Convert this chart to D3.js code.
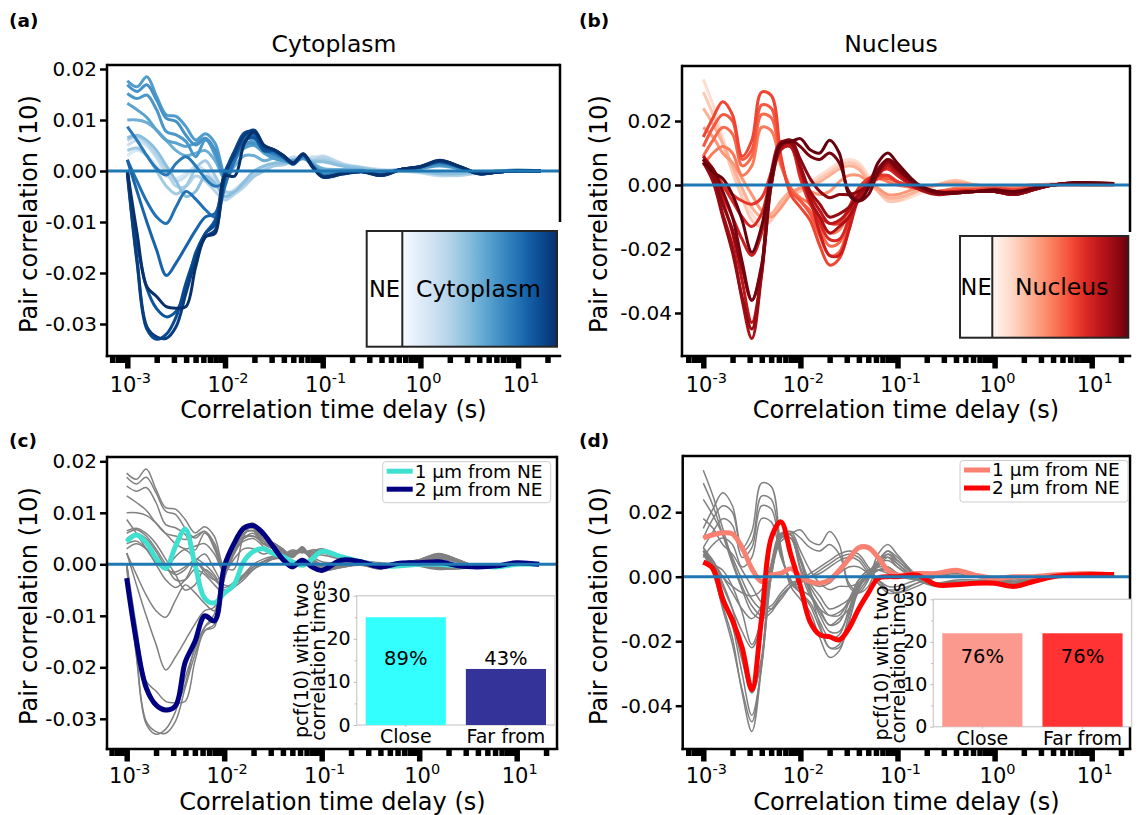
<!DOCTYPE html>
<html><head><meta charset="utf-8">
<script src="https://cdn.jsdelivr.net/npm/d3@7"></script>
<style>
body{margin:0;background:#fff}
text{font-family:"DejaVu Sans",sans-serif;fill:#000}
</style></head>
<body><svg id="chart" width="1141" height="815"></svg>
<script>
// ---------------- DATA ----------------
const delays=[0.001,0.001259,0.001585,0.001995,0.002512,0.003162,0.003981,0.005012,0.00631,0.007943,0.01,0.01259,0.01585,0.01995,0.02512,0.03162,0.03981,0.05012,0.0631,0.07943,0.1,0.1585,0.2512,0.3981,0.631,1,1.585,2.512,3.981,6.31,10,17];

// cytoplasm pcf(10) curves (x 1e-3), ordered from near NE (light) to far (dark)
const cytoShade=[0.15,0.22,0.3,0.36,0.42,0.5,0.55,0.58,0.6,0.62,0.72,0.75,0.8,0.86,0.9,0.95,1.0];
const cytoCurves=[
[3,4,3,1,-1,-1.5,-0.5,0.5,-1,-3,-4.5,-3.5,-2,-0.5,0.5,1,1.5,2.5,2.5,2.5,3,1.5,0.8,0.2,0,-0.3,-0.8,-0.8,-0.3,0,0,0],
[5,6,5,2.5,-0.5,-2,-1,1,0,-2,-5,-4,-2.5,-0.5,0.5,1.2,1.8,2.8,2.2,2.8,2.5,1.2,0.6,0.3,0,-0.4,-1,-0.7,-0.2,0,0.1,0],
[6,6.7,5.5,3,0,-3,-3,-1,-2,-4,-5.7,-4.5,-3,-1,0.5,1.5,2,2.5,2.8,2.2,2.8,1.4,0.5,0,0.2,-0.2,-0.8,-0.9,-0.4,0,0,0],
[4,4.5,3,0,-3,-4.5,-3,0.5,2,-1,-4,-4,-2.5,-1,0,1,1.2,2,2.4,2,2.2,1.2,0.7,0.1,0.1,-0.2,-0.6,-0.6,-0.3,0,0.1,0],
[6.5,7,6,4,1,-2,-5,-4,-1,-2.5,-5,-4,-2,0,1,1.5,1.6,2.2,2.5,1.8,1.8,1,0.5,0,0.3,0,-0.5,-0.5,-0.2,0,0,0],
[10,10,9.5,8,6,4,3,3.5,4,2,-1.5,1,3,3,2,2.5,2,2,2.5,1.5,0.5,0.3,0.2,-0.3,0.2,0.5,1,0.4,-0.3,-0.1,0.1,0],
[13.3,12,10.5,8,6,5.5,4.8,5.5,6.4,3,-1,2,5,6,4,3,2.5,2,2.8,1.2,0,0,0,-0.5,0.2,0.6,1.3,0.5,-0.4,-0.1,0.1,0],
[17.7,16.5,18.5,14.6,11,10.7,8.7,6.1,7.3,5.4,-0.5,2.5,4.5,5,3.5,2.5,2,1.5,2.5,1,-0.5,0,0,-0.5,0.2,0.5,1.2,0.5,-0.3,0,0.2,0],
[15.2,14.2,14.9,12,7.7,7.1,5.8,2.8,6.1,3.5,-1.5,2,5,5.5,4,3,2.3,1.8,2.6,1,-0.3,0,0,-0.4,0.2,0.6,1.2,0.5,-0.4,-0.1,0.1,0],
[16.9,15.6,16.9,13.9,10.3,9.7,7,5.1,6.4,4.1,-1,2.8,5.4,5.4,4.5,3.2,2.5,1.6,2.8,1.1,-0.5,-0.2,0,-0.5,0.3,0.7,1.4,0.6,-0.4,-0.2,0.1,0],
[8.7,6,3,0.5,-0.8,1.5,2.8,1,-1.5,-3,-2,2,6,6.5,4,3.5,2.5,1.5,3,0.8,-0.8,-0.3,0,-0.6,0.3,0.8,1.6,0.7,-0.5,-0.2,0,0],
[2.2,-2,-6,-9,-10.3,-7,-4,-5.5,-7.6,-9,-3,3,6.5,7,4,3.8,2.6,1.4,3.1,0.6,-1,-0.5,-0.1,-0.7,0.3,0.8,1.7,0.8,-0.5,-0.2,0,0],
[2.2,-4,-10,-15.5,-20.5,-18,-14.8,-11.6,-9,-8.3,-1,4,7,7,4,4,2.8,1.5,3.1,0.8,-1.1,-0.5,-0.1,-0.8,0.3,0.8,1.8,0.8,-0.5,-0.2,0,0],
[0.2,-14,-23,-27,-28.6,-27.5,-23.3,-16,-12.2,-9.6,0,3,6,6.5,4,4,2.8,1.3,3.2,0.8,-1.2,-0.6,-0.2,-0.9,0.3,0.9,2,0.9,-0.5,-0.2,0,0],
[-0.5,-18,-31,-33,-32,-28.6,-22,-16.5,-12.2,-10.5,-0.5,4,7.5,7.5,4.5,4.2,3,1.6,3.3,0.8,-1.1,-0.5,-0.1,-0.8,0.3,0.8,1.9,0.8,-0.6,-0.2,0,0],
[0,-17.5,-30.5,-32.5,-32.8,-30.5,-24,-17.5,-12.9,-11.6,-1,3.5,7,8,5,4.1,2.9,1.5,3.3,0.7,-1.2,-0.6,-0.1,-0.9,0.3,0.8,2,0.9,-0.5,-0.2,0,0],
[0.2,-12.2,-22.7,-24.6,-26.6,-26.9,-26.6,-18.8,-12.9,-12.2,-1,-1,5.5,7.7,5,4.2,3,1.6,3.4,0.8,-1.1,-0.5,-0.1,-0.8,0.3,0.9,2.1,0.9,-0.5,-0.2,0,0]
];

// nucleus pcf(10) curves (x 1e-3)
const nucShade=[0.12,0.2,0.28,0.36,0.45,0.5,0.55,0.6,0.65,0.7,0.75,0.8,0.85,0.9,0.93,0.97,1.0];
const nucCurves=[
[33,25,15,5,-3,-9,-12,-10,-6,-3,-1,1,3,5,7,8,7,3,-1,-4,-5,-3,0,1.5,0,-0.5,-0.5,0,0,0,0,0],
[29,22,13,4,-4,-11,-13,-11,-6,-3,-2,0,2,4,6,7,6,2,-2,-5,-5,-2,0,1.5,0,-0.5,-0.5,0,0.2,0.2,0,0],
[24,19,13,6,-1,-7,-10,-9,-5,-2,-1,0,1,3,5,6,5,1,-2,-4,-4,-2,0,1,0,-0.5,-0.5,0,0.2,0.2,0,0],
[18,15,10,7,2,-3,-8,-10,-7,-3,-1,-2,-3,-2,1,3,3,1,-1,-3,-3,-1,0,0.5,0,-0.5,-0.5,0,0.2,0.2,0,0],
[6,10,12,10,3,6,18,17,6,-1,-4,-6,-11,-15,-14,-8,-1,1,2,1,0,-1,-2,-1,-1,-1,-1,-0.5,0,0,0,0],
[9,14,18,16,6,9,22,21,7,-1,-5,-8,-14,-19,-18,-10,-2,1,2,2,1,-1,-2,-1.5,-1.5,-1,-1.5,-0.5,0,0.2,0.2,0.2],
[12,18,22,20,8,11,25,24,8,-2,-5,-9,-16,-22,-21,-12,-2,0,2,2,1,-1,-2,-1.5,-1.5,-1,-1.5,-0.5,0,0.3,0.3,0.2],
[15,21,26,22,9,14,29,28,9,-3,-7,-11,-19,-25,-23,-14,-3,0,2,3,1,-1,-2,-2,-1.5,-1,-1.5,-1,0,0.3,0.3,0.2],
[8,4,0,-3,-5,-6,-4,4,12,12,2,-6,-10,-12,-12,-7,-1,2,3,3,1,-1,-2,-2,-2,-1.5,-2,-1,0,0.3,0.4,0.3],
[9,5,0,-5,-10,-13,-9,3,12,12,3,-5,-12,-17,-17,-11,-3,1,4,5,3,-1,-2.5,-2,-2,-2,-2.5,-1,0,0.5,0.5,0.3],
[8,4,-3,-10,-17,-22,-15,2,12,13,5,-4,-15,-22,-22,-14,-4,1,5,6,3,-1,-2.5,-2,-2,-2,-2.5,-1,0,0.5,0.5,0.3],
[9,4,-5,-15,-30,-43,-28,0,11,12,5,-3,-8,-12,-11,-8,-3,0,3,6,4,-0.5,-2.5,-2,-2,-2,-2.5,-1,0,0.5,0.5,0.3],
[8,1.5,-9,-19,-36,-48,-28,4,13.5,13,5,-4.7,-10,-15,-13,-10,-4.7,-0.5,3.6,7,4,-1,-3,-2.5,-2,-2,-3,-1.5,0,0.5,0.5,0.3],
[7,1,-10,-21,-35,-45,-27,2,12,13,6,-2,-6,-10,-9,-7,-3,0,4,7,5,0,-2.5,-2.5,-2,-2,-3,-1.5,0,0.5,0.5,0.3],
[8,3,-6,-14,-26,-36,-25,2,13,14,8,2,-2,-4,-3,-3,-2,0,5,8,6,0,-2.5,-2.5,-2,-2,-3,-1.5,0,0.5,0.5,0.3],
[8,5,-2,-10,-24,-36,-26,0,12.5,14,12,9,8,10,7,-2,-5,-3,4,8,5,0,-2.5,-2.5,-2,-2,-2.5,-1,0,0.7,0.7,0.5],
[7,4,2,-3,-11,-21,-13,3,13,13.5,14.5,11,10,14,10,-3,-5,-1,7,10,6.8,0.5,-2,-2.4,-2,-1.5,-2,-1,0,0.7,0.7,0.5]
];

// highlighted curves (x 1e-3)
const cyto1um=[4.4,5.7,4.2,1.2,-0.8,3.5,6.8,0,-6.6,-7.5,-5.6,-4,0.5,2.5,3,2.1,1.5,0.5,-0.2,1,2.5,1.5,0.5,-0.3,-0.3,0,0,-0.3,-0.3,-0.5,0,0];
const cyto2um=[-2.7,-15,-24,-27.3,-28.3,-27.5,-19,-15,-10,-11,-0.5,4,7,7.5,6,3.5,1,-0.5,0.8,-0.5,-1.2,0.8,0.5,-0.5,0.2,0.3,0.5,-0.3,-0.5,-0.3,0.3,0];
const nuc1um=[12,13,13.6,13.3,9,2.5,-1.5,0.5,1,2.5,0,-1.5,-2,-1,2,5.5,9,9,6,2,0.5,1,1,2,0.5,-0.5,0,0,0.5,0.8,1,0.5];
const nuc2um=[4.5,2.5,-7,-13.5,-22,-35,-13,12,17,7,-3,-14,-18,-18.6,-19.6,-16,-10,-5,-0.5,0,0,0.5,-2.5,-2.5,-2,-2,-3,-1.5,0,0.5,0.7,0.7];

// inset bar charts
const barCategories=["Close","Far from"];
const cytoBarValues=[25,13];
const cytoBarLabels=["89%","43%"];
const nucBarValues=[22,22];
const nucBarLabels=["76%","76%"];
const barTicks=[0,10,20,30];
const barMinorTicks=[5,15,25];

// ticks
const xMajorTicks=[1e-3,1e-2,1e-1,1,10];
const xMajorExp=["-3","-2","-1","0","1"];
const xMinorTicks=[7e-4,8e-4,9e-4,2e-3,3e-3,4e-3,5e-3,6e-3,7e-3,8e-3,9e-3,2e-2,3e-2,4e-2,5e-2,6e-2,7e-2,8e-2,9e-2,0.2,0.3,0.4,0.5,0.6,0.7,0.8,0.9,2,3,4,5,6,7,8,9,20];
const cytoYTicks=[0.02,0.01,0,-0.01,-0.02,-0.03];
const cytoYLabels=["0.02","0.01","0.00","-0.01","-0.02","-0.03"];
const nucYTicks=[0.02,0,-0.02,-0.04];
const nucYLabels=["0.02","0.00","-0.02","-0.04"];

// ---------------- DRAWING ----------------
const svg=d3.select("#chart");
const defs=svg.append("defs");

const P={
 a:{x0:107,x1:560,y0:65,y1:356,lab:35.5,xd:[Math.pow(10,-3.2078),Math.pow(10,1.4289)],yd:[-0.036275,0.020784]},
 b:{x0:682,x1:1130,y0:66,y1:356,lab:35.5,xd:[Math.pow(10,-3.2194),Math.pow(10,1.3944)],yd:[-0.05344,0.03719]},
 c:{x0:107,x1:557,y0:457,y1:749,lab:33.5,xd:[Math.pow(10,-3.202),Math.pow(10,1.4133)],yd:[-0.035864,0.020835]},
 d:{x0:682.7,x1:1130,y0:456,y1:749,lab:33.5,xd:[Math.pow(10,-3.212),Math.pow(10,1.3944)],yd:[-0.05343,0.03743]}
};
for(const k in P){
  const p=P[k];
  p.x=d3.scaleLog().domain(p.xd).range([p.x0,p.x1]);
  p.y=d3.scaleLinear().domain(p.yd).range([p.y1,p.y0]);
  defs.append("clipPath").attr("id","clip-"+k).append("rect")
    .attr("x",p.x0).attr("y",p.y0).attr("width",p.x1-p.x0).attr("height",p.y1-p.y0);
  p.g=svg.append("g");
  p.plot=p.g.append("g").attr("clip-path","url(#clip-"+k+")");
}

function lineGen(p){
  return d3.line().x((d,i)=>p.x(delays[i])).y(d=>p.y(d*1e-3)).curve(d3.curveCatmullRom.alpha(0.5));
}

// curves
function drawSet(p,curves,shades,interp,gray){
  const lg=lineGen(p);
  curves.forEach((c,i)=>{
    p.plot.append("path").attr("d",lg(c)).attr("fill","none")
      .attr("stroke",gray?"#808080":interp(shades[i]))
      .attr("stroke-width",gray?1.5:3).attr("stroke-linejoin","round");
  });
}
drawSet(P.a,cytoCurves,cytoShade,d3.interpolateBlues,false);
drawSet(P.b,nucCurves,nucShade,d3.interpolateReds,false);
drawSet(P.c,cytoCurves,cytoShade,null,true);
drawSet(P.d,nucCurves,nucShade,null,true);

function drawHi(p,data,color){
  p.plot.append("path").attr("d",lineGen(p)(data)).attr("fill","none")
    .attr("stroke",color).attr("stroke-width",5).attr("stroke-linejoin","round");
}
drawHi(P.c,cyto1um,"#40e0d0");
drawHi(P.c,cyto2um,"#000080");
drawHi(P.d,nuc1um,"#fa8072");
drawHi(P.d,nuc2um,"#ff0000");

// zero lines
for(const k in P){
  const p=P[k];
  p.g.append("line").attr("x1",p.x0).attr("x2",p.x1).attr("y1",p.y(0)).attr("y2",p.y(0))
    .attr("stroke","#1f77b4").attr("stroke-width",3);
}

// axes
function axes(p,yTicks,yLabels,rightSpineEnd){
  const inDom=v=>v>=p.xd[0]&&v<=p.xd[1];
  const gm=p.g.append("g").attr("transform",`translate(0,${p.y1})`)
    .call(d3.axisBottom(p.x).tickValues(xMinorTicks.filter(inDom)).tickSize(7).tickFormat(""));
  gm.select(".domain").remove();
  gm.selectAll(".tick line").attr("stroke","#000").attr("stroke-width",5.5);
  const gM=p.g.append("g").attr("transform",`translate(0,${p.y1})`)
    .call(d3.axisBottom(p.x).tickValues(xMajorTicks).tickSize(12.5).tickFormat(""));
  gM.select(".domain").remove();
  gM.selectAll(".tick line").attr("stroke","#000").attr("stroke-width",5.5);
  xMajorTicks.forEach((m,i)=>{
    const t=p.g.append("text").attr("x",p.x(m)+3).attr("y",p.y1+p.lab)
      .attr("text-anchor","middle").style("font-size","21px");
    t.append("tspan").text("10");
    t.append("tspan").attr("dy",-9).style("font-size","14.5px").text(xMajorExp[i]);
  });
  const gy=p.g.append("g").attr("transform",`translate(${p.x0},0)`)
    .call(d3.axisLeft(p.y).tickValues(yTicks).tickSize(7).tickPadding(3)
      .tickFormat((d,i)=>yLabels[i]));
  gy.select(".domain").remove();
  gy.selectAll(".tick line").attr("stroke","#000").attr("stroke-width",2.5);
  gy.selectAll(".tick text").style("font-size","20px").style("font-family","DejaVu Sans").attr("fill","#000");
  // spines
  const sp=p.g.append("g").attr("stroke","#000").attr("stroke-width",2.5);
  sp.append("line").attr("x1",p.x0).attr("x2",p.x0).attr("y1",p.y0-1.25).attr("y2",p.y1+1.25);
  sp.append("line").attr("x1",p.x0).attr("x2",p.x1).attr("y1",p.y0).attr("y2",p.y0);
  sp.append("line").attr("x1",p.x0-1.25).attr("x2",p.x1+1.25).attr("y1",p.y1).attr("y2",p.y1);
  sp.append("line").attr("x1",p.x1).attr("x2",p.x1).attr("y1",p.y0-1.25).attr("y2",rightSpineEnd);
}
axes(P.a,cytoYTicks,cytoYLabels,222);
axes(P.b,nucYTicks,nucYLabels,232);
axes(P.c,cytoYTicks,cytoYLabels,750);
axes(P.d,nucYTicks,nucYLabels,750);

// axis labels & titles
function label(x,y,txt,size,rot,weight){
  const t=svg.append("text").attr("text-anchor","middle").style("font-size",size+"px").text(txt);
  if(weight)t.style("font-weight",weight);
  if(rot)t.attr("transform",`translate(${x},${y}) rotate(-90)`); else t.attr("x",x).attr("y",y);
  return t;
}
label(333.5,418,"Correlation time delay (s)",24);
label(906,418,"Correlation time delay (s)",24);
label(332.5,809.5,"Correlation time delay (s)",24);
label(906.5,809.5,"Correlation time delay (s)",24);
label(37,214,"Pair correlation (10)",24,true);
label(607,214,"Pair correlation (10)",24,true);
label(37,606,"Pair correlation (10)",24,true);
label(607,606,"Pair correlation (10)",24,true);
label(334,52,"Cytoplasm",23.5);
label(891,52,"Nucleus",23.5);
svg.append("text").attr("x",9).attr("y",27).style("font-size","18.5px").style("font-weight","bold").text("(a)");
svg.append("text").attr("x",579).attr("y",27).style("font-size","18.5px").style("font-weight","bold").text("(b)");
svg.append("text").attr("x",9).attr("y",447).style("font-size","18.5px").style("font-weight","bold").text("(c)");
svg.append("text").attr("x",579).attr("y",447).style("font-size","18.5px").style("font-weight","bold").text("(d)");

// colour-gradient insets
function gradInset(id,interp,x0,x1,xd,y0,y1,name,nameX){
  const lg=defs.append("linearGradient").attr("id",id);
  d3.range(0,1.0001,0.1).forEach(t=>lg.append("stop").attr("offset",t).attr("stop-color",interp(t)));
  svg.append("rect").attr("x",x0).attr("y",y0).attr("width",xd-x0).attr("height",y1-y0).attr("fill","#fff");
  svg.append("rect").attr("x",xd).attr("y",y0).attr("width",x1-xd).attr("height",y1-y0).attr("fill",`url(#${id})`);
  svg.append("rect").attr("x",x0).attr("y",y0).attr("width",x1-x0).attr("height",y1-y0)
    .attr("fill","none").attr("stroke","#262626").attr("stroke-width",2);
  svg.append("line").attr("x1",xd).attr("x2",xd).attr("y1",y0).attr("y2",y1).attr("stroke","#262626").attr("stroke-width",2);
  const cy=(y0+y1)/2+8.5;
  svg.append("text").attr("x",(x0+xd)/2).attr("y",cy).attr("text-anchor","middle").style("font-size","22.5px").text("NE");
  svg.append("text").attr("x",nameX).attr("y",cy).attr("text-anchor","middle").style("font-size","23.5px").text(name);
}
gradInset("gBlues",d3.interpolateBlues,366.7,557,402.3,231,346.7,"Cytoplasm",478.5);
gradInset("gReds",d3.interpolateReds,960,1128.3,992.3,236,337.7,"Nucleus",1061.7);

// legends
function legend(x0,y0,w,h,items){
  svg.append("rect").attr("x",x0).attr("y",y0).attr("width",w).attr("height",h).attr("rx",3)
    .attr("fill","#fff").attr("fill-opacity",0.85).attr("stroke","#cccccc").attr("stroke-width",1);
  items.forEach((it,i)=>{
    const yy=y0+9.5+i*18;
    svg.append("line").attr("x1",x0+4).attr("x2",x0+30).attr("y1",yy).attr("y2",yy).attr("stroke",it[1]).attr("stroke-width",5);
    svg.append("text").attr("x",x0+32).attr("y",yy+6.3).style("font-size","18.5px").text(it[0]);
  });
}
legend(382.7,461.7,168,41,[["1 μm from NE","#40e0d0"],["2 μm from NE","#000080"]]);
legend(960,460.5,168,41.5,[["1 μm from NE","#fa8072"],["2 μm from NE","#ff0000"]]);

// bar insets
function barInset(x0,x1,yTop,yBot,values,labels,colors,labelLevel,ylx){
  const xb=d3.scaleBand().domain(barCategories).range([x0,x1]).paddingInner(0.2).paddingOuter(0.09);
  const yb=d3.scaleLinear().domain([0,30]).range([yBot,yTop]);
  const g=svg.append("g");
  g.append("rect").attr("x",x0).attr("y",yTop).attr("width",x1-x0).attr("height",yBot-yTop).attr("fill","#fff")
    .attr("stroke","#cfcfcf").attr("stroke-width",1.3);
  g.selectAll(".bar").data(values).join("rect").attr("x",(d,i)=>xb(barCategories[i])).attr("width",xb.bandwidth())
    .attr("y",d=>yb(d)).attr("height",d=>yBot-yb(d)).attr("fill",(d,i)=>colors[i]);
  const ya=g.append("g").attr("transform",`translate(${x0},0)`)
    .call(d3.axisLeft(yb).tickValues(barTicks).tickSize(3).tickPadding(3));
  ya.select(".domain").remove();
  ya.selectAll(".tick line").attr("stroke","#bbb");
  ya.selectAll(".tick text").style("font-size","19px").style("font-family","DejaVu Sans").attr("fill","#000");
  const ym=g.append("g").attr("transform",`translate(${x0},0)`)
    .call(d3.axisLeft(yb).tickValues(barMinorTicks).tickSize(2).tickFormat(""));
  ym.select(".domain").remove();
  ym.selectAll(".tick line").attr("stroke","#bbb");
  const xa=g.append("g").attr("transform",`translate(0,${yBot})`)
    .call(d3.axisBottom(xb).tickSize(2).tickPadding(3));
  xa.select(".domain").remove();
  xa.selectAll(".tick line").attr("stroke","#bbb");
  xa.selectAll(".tick text").style("font-size","19px").style("font-family","DejaVu Sans").attr("fill","#000");
  labels.forEach((l,i)=>{
    g.append("text").attr("x",xb(barCategories[i])+xb.bandwidth()/2).attr("y",yb(labelLevel))
      .attr("text-anchor","middle").style("font-size","19.5px").text(l);
  });
  const cy=(yTop+yBot)/2;
  [["pcf(10) with two",ylx],["correlation times",ylx+17]].forEach(s=>{
    g.append("text").attr("transform",`translate(${s[1]+6},${cy}) rotate(-90)`).attr("text-anchor","middle")
      .style("font-size","19px").text(s[0]);
  });
}
barInset(356.7,555,595.7,725,cytoBarValues,cytoBarLabels,["#33ffff","#333399"],14,301.7);
barInset(933.3,1131.6,599.3,726.7,nucBarValues,nucBarLabels,["#fb998e","#ff3333"],15.1,881.7);
</script></body></html>
